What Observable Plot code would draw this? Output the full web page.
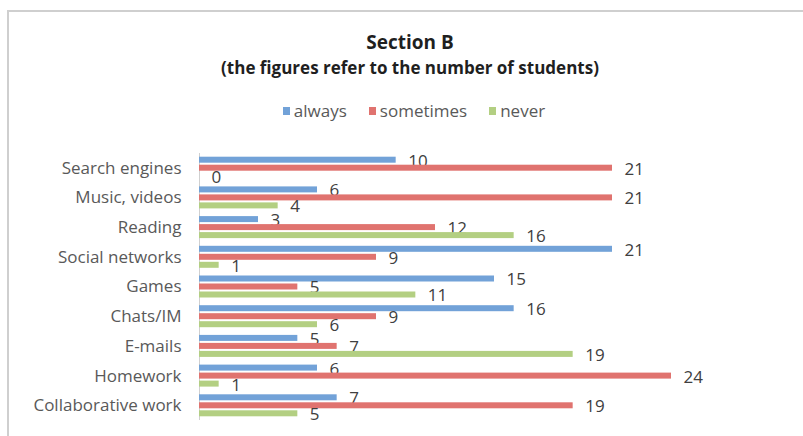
<!DOCTYPE html>
<html>
<head>
<meta charset="utf-8">
<script src="https://cdn.jsdelivr.net/npm/d3@7"></script>
<script src="https://cdn.jsdelivr.net/npm/@observablehq/plot@0.6"></script>
<style>
  html, body { margin: 0; padding: 0; background: #fff; }
  body { width: 803px; height: 436px; overflow: hidden; position: relative;
         font-family: "Open Sans", Lato, "Liberation Sans", sans-serif; }
  #frame { position: absolute; left: 7px; top: 10px; width: 830px; height: 440px;
           border-top: 2px solid #cfcfcf; border-left: 2px solid #cfcfcf; }
  #header { position: relative; height: 140px; }
  #title, #subtitle { position: absolute; left: 0; width: 820px; text-align: center;
           font-weight: bold; color: #1f1f1f; white-space: nowrap; }
  #title { top: 33px; font-size: 19px; line-height: 19px; }
  #subtitle { top: 59px; font-size: 17px; line-height: 17px; }
  #legend { position: absolute; left: 0; width: 828px; top: 102px; height: 17px;
            display: flex; justify-content: center; align-items: center;
            font-size: 17px; line-height: 17px; color: #595959; }
  #legend span.item { display: flex; align-items: center; margin: 0 11px; }
  #legend i { display: inline-block; width: 7px; height: 8px; margin-right: 4px; }
  #chart { position: relative; height: 296px; }
  #chart svg { display: block; }
</style>
</head>
<body>
<div id="frame"></div>
<div id="header">
  <div id="title">Section B</div>
  <div id="subtitle">(the figures refer to the number of students)</div>
  <div id="legend"></div>
</div>
<div id="chart"></div>
<script>
// Activities, top to bottom
const categories = [
  "Search engines", "Music, videos", "Reading", "Social networks", "Games",
  "Chats/IM", "E-mails", "Homework", "Collaborative work"
];
// Frequency answers
const seriesNames = ["always", "sometimes", "never"];
const seriesColors = ["#72a2d8", "#e0736f", "#b3cf82"];
// Number of students per activity
const always    = [10, 6, 3, 21, 15, 16, 5, 6, 7];
const sometimes = [21, 21, 12, 9, 5, 9, 7, 24, 19];
const never     = [0, 4, 16, 1, 11, 6, 19, 1, 5];

const valuesBySeries = [always, sometimes, never];
const rows = seriesNames.flatMap((s, si) =>
  categories.map((c, ci) => ({activity: c, series: s, value: valuesBySeries[si][ci]}))
);

// Legend
const legend = document.getElementById("legend");
seriesNames.forEach((s, i) => {
  const item = document.createElement("span");
  item.className = "item";
  const sw = document.createElement("i");
  sw.style.background = seriesColors[i];
  item.appendChild(sw);
  item.appendChild(document.createTextNode(s));
  legend.appendChild(item);
});

const font = '"Open Sans", Lato, "Liberation Sans", sans-serif';
const barStep = 8;      // vertical spacing between the three bars of a group
const groupStep = 29.7; // spacing between activity groups
const barPad = 1 - 6 / groupStep;
const yTop = 24.7;

const marks = [];
marks.push(Plot.ruleX([0], {stroke: "#d0d0d0", strokeWidth: 1}));
seriesNames.forEach((s, i) => {
  const d = rows.filter(r => r.series === s);
  const shift = (i - 1) * barStep;
  marks.push(Plot.barX(d, {x: "value", y: "activity", fill: seriesColors[i], dy: shift}));
  marks.push(Plot.text(d, {
    x: "value", y: "activity", text: d => String(d.value),
    dx: 12, dy: shift + 1, textAnchor: "start",
    fill: "#404040", fontSize: 17, fontFamily: font
  }));
});

const chart = Plot.plot({
  width: 803,
  height: 296,
  marginLeft: 199,
  marginRight: 132,
  marginTop: 13,
  marginBottom: 16,
  style: {fontFamily: font, background: "transparent", overflow: "visible"},
  x: {domain: [0, 24], axis: null},
  y: {domain: categories, round: false, paddingInner: barPad, paddingOuter: 0,
      range: [yTop, yTop + groupStep * (categories.length - barPad)],
      tickSize: 0, tickPadding: 18, label: null},
  marks
});
chart.querySelectorAll('[aria-label="y-axis tick label"]').forEach(g => {
  g.setAttribute("font-size", 17);
  g.setAttribute("fill", "#595959");
  g.querySelectorAll("text").forEach(t => { t.setAttribute("font-size", 17); t.setAttribute("fill", "#595959"); });
});
document.getElementById("chart").appendChild(chart);
</script>
</body>
</html>
